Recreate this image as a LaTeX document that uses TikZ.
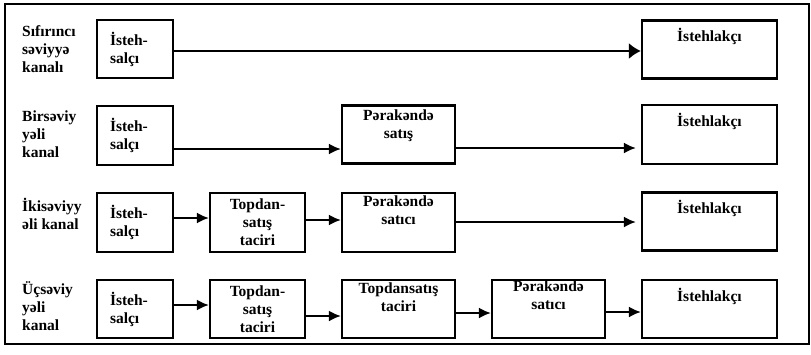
\documentclass[tikz,border=0pt]{standalone}
\usepackage{fontspec}
\setmainfont{Liberation Serif}
\usetikzlibrary{arrows.meta}
\begin{document}
\begin{tikzpicture}[x=1pt,y=-1pt,
  font=\bfseries\fontsize{15.5}{18}\selectfont,
  box/.style={draw,line width=2.2pt,inner sep=0pt,align=center},
  prodbox/.style={box,minimum width=76pt,minimum height=58pt,text width=50pt,align=left},
  wide/.style={box,minimum width=113pt,minimum height=58pt},
  consbox/.style={box,minimum width=135pt,minimum height=58pt},
  midbox/.style={box,minimum width=95pt,minimum height=59pt},
  toptext/.style={anchor=north,align=center,inner sep=0pt},
  rowlabel/.style={anchor=north west,align=left,inner sep=0pt},
  flow/.style={line width=2.1pt,-{Latex[length=12pt,width=11pt]}}]
\useasboundingbox (0,0) rectangle (811,354);
\draw[line width=2pt] (5,4) rectangle (809,344);

% row labels
\node[rowlabel] (l1) at (22,25) {Sıfırıncı\\səviyyə\\kanalı};
\node[rowlabel] (l2) at (22,111) {Birsəviy\\yəli\\kanal};
\node[rowlabel] (l3) at (22,198) {İkisəviyy\\əli kanal};
\node[rowlabel] (l4) at (22,281) {Üçsəviy\\yəli\\kanal};

% zero-level channel
\node[prodbox] (p1) at (135,49) {İsteh-\\salçı};
\node[consbox,label={[toptext,yshift=-9pt]north:İstehlakçı}] (c1) at (709.5,49.5) {};
\draw[line width=1.9pt,-{Latex[length=12pt,width=16pt]}] (p1.east |- 0,51) -- (c1.west |- 0,51);

% one-level channel
\node[prodbox,minimum height=59pt] (p2) at (135,135.5) {İsteh-\\salçı};
\node[wide,label={[toptext,yshift=-5pt]north:Pərakəndə\\satış}] (r2) at (398.5,134.5) {};
\node[consbox,minimum height=59pt,label={[toptext,yshift=-9pt]north:İstehlakçı}] (c2) at (709.5,134.5) {};
\draw[flow] (p2.east |- 0,149) -- (r2.west |- 0,149);
\draw[flow] (r2.east |- 0,148) -- ([xshift=-5pt]c2.west |- 0,148);

% two-level channel
\node[prodbox,minimum height=59pt] (p3) at (135,222.5) {İsteh-\\salçı};
\node[midbox] (w3) at (257.5,222.5) {Topdan-\\satış\\taciri};
\node[wide,minimum height=59pt,label={[toptext,yshift=-4pt]north:Pərakəndə\\satıcı}] (r3) at (398.5,222.5) {};
\node[consbox,label={[toptext,yshift=-9pt]north:İstehlakçı}] (c3) at (709.5,221.5) {};
\draw[flow] (p3.east |- 0,218) -- (w3.west |- 0,218);
\draw[flow] (w3.east |- 0,220) -- (r3.west |- 0,220);
\draw[flow] (r3.east |- 0,222) -- ([xshift=-5pt]c3.west |- 0,222);

% three-level channel
\node[prodbox] (p4) at (135,309) {İsteh-\\salçı};
\node[midbox,minimum height=58pt] (w4) at (257.5,309) {Topdan-\\satış\\taciri};
\node[wide,label={[toptext,yshift=-4pt]north:Topdansatış\\taciri}] (x4) at (398.5,309) {};
\node[wide,label={[toptext,yshift=-2pt]north:Pərakəndə\\satıcı}] (r4) at (548.5,309) {};
\node[consbox,label={[toptext,yshift=-9pt]north:İstehlakçı}] (c4) at (709.5,309) {};
\draw[flow] (p4.east |- 0,305) -- (w4.west |- 0,305);
\draw[flow] (w4.east |- 0,316) -- (x4.west |- 0,316);
\draw[flow] (x4.east |- 0,313) -- (r4.west |- 0,313);
\draw[flow] (r4.east |- 0,312) -- (c4.west |- 0,312);
\end{tikzpicture}
\end{document}
